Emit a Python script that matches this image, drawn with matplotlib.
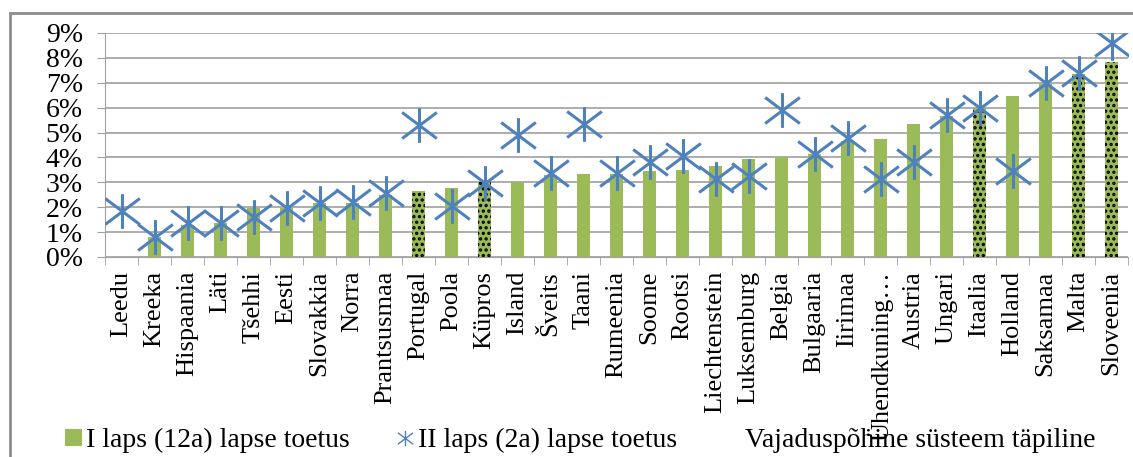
# Lapse toetus: I laps vs II laps, riikide kaupa
import numpy as np
import matplotlib
matplotlib.use('Agg')
import matplotlib.pyplot as plt
from matplotlib.path import Path
from matplotlib.patches import Patch, Rectangle
from matplotlib.lines import Line2D
from matplotlib.ticker import FuncFormatter, FixedLocator

plt.rcParams['font.family'] = ['Liberation Serif', 'DejaVu Serif']
plt.rcParams['hatch.linewidth'] = 1.6

# data (percent)
countries = ['Leedu', 'Kreeka', 'Hispaania', 'Läti', 'Tšehhi', 'Eesti', 'Slovakkia', 'Norra',
             'Prantsusmaa', 'Portugal', 'Poola', 'Küpros', 'Island', 'Šveits', 'Taani',
             'Rumeenia', 'Soome', 'Rootsi', 'Liechtenstein', 'Luksemburg', 'Belgia',
             'Bulgaaria', 'Iirimaa', 'Ühendkuning…', 'Austria', 'Ungari', 'Itaalia',
             'Holland', 'Saksamaa', 'Malta', 'Sloveenia']
first_child = [0, 0.8, 1.27, 1.37, 1.96, 1.95, 2.15, 2.15, 2.5, 2.65, 2.76, 3.02, 3.02,
               3.29, 3.35, 3.35, 3.46, 3.5, 3.66, 3.94, 4.03, 4.14, 4.68, 4.73, 5.34,
               5.65, 5.98, 6.48, 6.96, 7.37, 7.84]
second_child = [1.85, 0.8, 1.35, 1.35, 1.6, 1.95, 2.15, 2.2, 2.58, 5.3, 2.06, 2.98, 4.9,
                3.36, 5.35, 3.36, 3.8, 4.06, 3.12, 3.25, 5.89, 4.15, 4.77, 3.13, 3.8,
                5.71, 5.98, 3.46, 6.98, 7.4, 8.6]
needs_based = ['Portugal', 'Küpros', 'Itaalia', 'Malta', 'Sloveenia']

green = '#9BBB59'
blue = '#4F81BD'
grid_gray = '#A0A0A0'

# star marker: vertical line plus an X
star = Path([(0, -1), (0, 1), (-1, -0.75), (1, 0.75), (-1, 0.75), (1, -0.75)],
            [Path.MOVETO, Path.LINETO, Path.MOVETO, Path.LINETO, Path.MOVETO, Path.LINETO])

fig = plt.figure(figsize=(11.33, 4.57), dpi=100)
ax = fig.add_axes([105 / 1133, 1 - 257 / 457, 1023 / 1133, 224 / 457])

x = np.arange(len(countries))
for i, c in enumerate(countries):
    if c in needs_based:
        ax.bar(x[i], first_child[i], width=0.4, color=green, edgecolor='black',
               linewidth=0, hatch='...', zorder=2)
    else:
        ax.bar(x[i], first_child[i], width=0.4, color=green, linewidth=0, zorder=2)

ax.plot(x, second_child, linestyle='none', marker=star, markersize=25,
        markeredgewidth=2.2, color=blue, zorder=3)

ax.set_xlim(-0.5, len(countries) - 0.5)
ax.set_ylim(0, 9)
ax.set_yticks(np.arange(0, 10, 1))
ax.yaxis.set_major_formatter(FuncFormatter(lambda v, p: f'{v:.0f}%'))
ax.yaxis.grid(True, color=grid_gray, linewidth=1.2, zorder=0)
ax.set_axisbelow(True)

ax.set_xticks(x)
ax.set_xticklabels(countries, rotation=90, fontsize=19)
ax.xaxis.set_minor_locator(FixedLocator(np.arange(-0.5, len(countries), 1)))
ax.tick_params(axis='x', which='major', length=0, pad=10)
ax.tick_params(axis='x', which='minor', length=6, color=grid_gray)
ax.tick_params(axis='y', labelsize=20, length=6, color=grid_gray, pad=10)

for s in ['top', 'right']:
    ax.spines[s].set_visible(False)
ax.spines['left'].set_color(grid_gray)
ax.spines['bottom'].set_color(grid_gray)

# outer chart frame
fig.patches.append(Rectangle((10 / 1133, -0.2), 1.2, 1.2 - 13 / 457, transform=fig.transFigure,
                             fill=False, edgecolor='#8C8C8C', linewidth=2))

handles = [Patch(facecolor=green, linewidth=0),
           Line2D([], [], linestyle='none', marker=star, markersize=11,
                  markeredgewidth=1.0, color=blue),
           Patch(facecolor='white', edgecolor='white', linewidth=0)]
labels = ['I laps (12a) lapse toetus', 'II laps (2a) lapse toetus',
          'Vajaduspõhine süsteem täpiline']
fig.legend(handles, labels, loc='center', bbox_to_anchor=(0.512, 0.036), ncol=3,
           frameon=False, fontsize=20, handlelength=0.6, handleheight=0.6,
           handletextpad=0.15, columnspacing=1.7, borderpad=0, borderaxespad=0)

fig.savefig('out.png', dpi=100)
